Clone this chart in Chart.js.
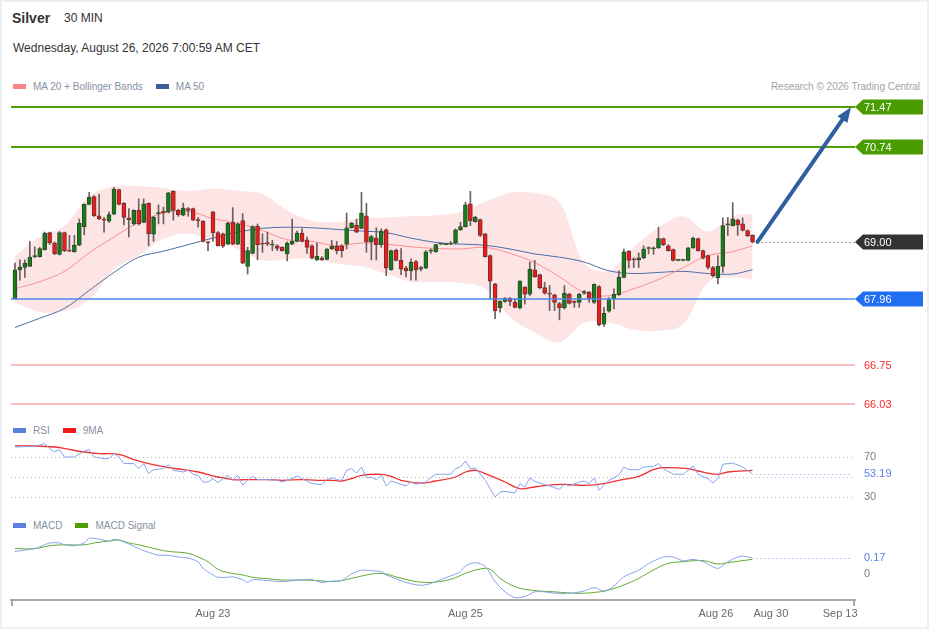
<!DOCTYPE html>
<html lang="en">
<head>
  <meta charset="UTF-8">
  <title>Silver 30 MIN</title>
  <script src="https://cdn.jsdelivr.net/npm/chart.js@4.4.1/dist/chart.umd.min.js"></script>
  <style>
    body { margin: 0; background: #fff; font-family: "Liberation Sans", Arial, sans-serif; }
    #edge { position: absolute; left: 0; top: 0; width: 929px; height: 629px; box-sizing: border-box; border: 2px solid #edf1f4; pointer-events: none; }
    .txt { position: absolute; white-space: nowrap; }
    .legend { position: absolute; font-size: 10px; line-height: 12px; color: #8790a3; white-space: nowrap; }
    .sw { display: inline-block; width: 13px; height: 5px; vertical-align: middle; margin: -2px 7px 0 0; }
    canvas { position: absolute; left: 0; }
  </style>
</head>
<body>

  <div class="txt" style="left:12px; top:10px; font-size:14px; line-height:17px; font-weight:bold; color:#333;">Silver</div>
  <div class="txt" style="left:64px; top:11px; font-size:12px; line-height:14px; color:#333;">30 MIN</div>
  <div class="txt" style="left:13px; top:41px; font-size:12px; line-height:14px; color:#333;">Wednesday, August 26, 2026 7:00:59 AM CET</div>

  <div class="legend" style="left:13px; top:81px;"><span class="sw" style="background:#fa8585;"></span>MA 20 + Bollinger Bands<span class="sw" style="background:#3a5f98; margin-left:13px;"></span>MA 50</div>
  <div class="legend" style="right:9px; top:81px; color:#a3a3a3;">Research © 2026 Trading Central</div>

  <div class="legend" style="left:13px; top:425px;"><span class="sw" style="background:#5b80e0;"></span>RSI<span class="sw" style="background:#f01818; margin-left:13px;"></span>9MA</div>
  <div class="legend" style="left:13px; top:520px;"><span class="sw" style="background:#5b80e0;"></span>MACD<span class="sw" style="background:#4aa000; margin-left:13px;"></span>MACD Signal</div>

  <canvas id="priceCanvas" width="929" height="320" style="top:95px;"></canvas>
  <canvas id="rsiCanvas" width="929" height="70" style="top:436px;"></canvas>
  <canvas id="macdCanvas" width="929" height="97" style="top:532px;"></canvas>

  <div id="edge"></div>

  <script>
    // 30 min candles, oldest first
    const opens = [67.96,68.49,68.53,68.55,68.73,68.73,68.86,69.17,68.98,68.77,
      69.17,68.84,68.82,68.94,69.28,69.69,69.83,69.48,69.42,69.38,
      69.51,69.96,69.71,69.44,69.33,69.58,69.36,69.71,69.14,69.52,
      69.56,69.55,69.93,69.58,69.49,69.61,69.61,69.40,69.38,69.00,
      69.55,69.17,69.15,68.96,69.36,68.96,69.39,68.55,68.79,69.29,
      68.98,68.99,68.94,68.93,68.90,68.78,68.96,69.01,69.16,69.04,
      68.93,68.67,68.71,68.68,68.87,68.92,68.93,68.96,69.26,69.31,
      69.25,69.48,69.00,69.07,68.95,69.22,68.49,68.85,68.66,68.52,
      68.47,68.64,68.50,68.52,68.83,68.82,68.96,68.95,68.96,68.98,
      69.22,69.28,69.70,69.37,69.41,69.15,68.75,68.23,67.79,67.91,
      67.97,67.89,67.79,68.17,68.04,68.49,68.40,68.16,68.06,68.03,
      67.87,67.79,68.04,67.90,67.89,68.06,68.08,67.89,68.18,67.49,
      67.73,67.95,68.03,68.35,68.83,68.69,68.67,68.71,68.88,68.87,
      68.89,69.06,68.93,68.86,68.66,68.66,68.66,68.89,69.06,68.84,
      68.75,68.53,68.34,68.55,69.31,69.30,69.40,69.33,69.21,69.12];
    const highs = [68.61,68.67,68.67,69.01,68.91,68.90,69.18,69.18,69.00,69.19,
      69.18,69.12,69.12,69.42,69.70,69.91,69.85,69.88,69.45,69.55,
      70.00,69.97,69.72,69.61,69.59,69.79,69.79,69.72,69.47,69.68,
      69.64,69.91,69.94,69.60,69.71,69.63,69.62,69.45,69.39,69.01,
      69.56,69.19,69.16,69.36,69.63,69.35,69.52,68.90,69.30,69.33,
      69.15,69.18,69.03,68.95,68.91,69.00,69.42,69.20,69.24,69.09,
      68.95,68.98,68.73,68.88,69.03,69.01,68.95,69.53,69.36,69.42,
      69.91,69.71,69.12,69.26,69.24,69.24,68.85,68.87,68.88,68.55,
      68.69,68.66,68.55,68.84,68.87,68.96,68.97,68.97,69.01,69.24,
      69.36,69.73,69.93,69.47,69.42,69.16,68.76,68.24,67.92,67.98,
      67.98,67.95,68.29,68.18,68.63,68.66,68.41,68.26,68.20,68.04,
      67.89,68.20,68.06,67.92,68.06,68.11,68.09,68.23,68.20,67.80,
      67.98,68.14,68.47,68.87,68.84,68.71,68.80,68.93,68.91,68.91,
      69.27,69.07,68.95,68.87,68.67,68.67,68.90,69.09,69.07,68.85,
      68.76,68.55,68.75,69.44,69.45,69.72,69.42,69.44,69.22,69.13];
    const lows = [67.96,68.30,68.35,68.55,68.71,68.72,68.85,68.95,68.77,68.76,
      68.82,68.82,68.81,68.93,69.13,69.68,69.47,69.41,69.18,69.36,
      69.50,69.68,69.31,69.09,69.31,69.31,69.35,68.93,69.01,69.33,
      69.33,69.53,69.40,69.47,69.48,69.47,69.39,69.27,69.00,68.84,
      69.01,68.92,68.90,68.95,68.95,68.95,68.60,68.41,68.78,68.67,
      68.81,68.93,68.84,68.84,68.83,68.65,68.95,69.00,69.00,68.79,
      68.69,68.66,68.66,68.67,68.86,68.78,68.72,68.87,69.25,69.17,
      69.24,68.81,68.67,68.67,68.90,68.38,68.48,68.65,68.40,68.36,
      68.30,68.30,68.47,68.51,68.79,68.81,68.95,68.95,68.95,68.96,
      69.21,69.27,69.30,69.36,69.10,68.72,67.95,67.59,67.71,67.89,
      67.83,67.79,67.77,67.86,68.01,68.35,68.14,68.04,67.74,67.74,
      67.57,67.77,67.86,67.80,67.80,68.04,67.89,67.87,67.46,67.45,
      67.71,67.77,68.02,68.34,68.52,68.53,68.53,68.69,68.78,68.77,
      68.88,68.93,68.83,68.65,68.65,68.65,68.65,68.88,68.83,68.69,
      68.50,68.36,68.23,68.44,69.12,69.29,69.12,69.20,69.10,68.98];
    const closes = [68.49,68.54,68.61,68.72,68.75,68.88,69.16,68.98,68.78,69.17,
      68.84,68.83,68.94,69.34,69.69,69.82,69.48,69.42,69.40,69.50,
      69.97,69.69,69.45,69.41,69.58,69.33,69.70,69.15,69.45,69.53,
      69.53,69.90,69.58,69.50,69.62,69.58,69.40,69.39,69.01,68.98,
      69.17,68.93,68.92,69.34,68.96,69.33,68.61,68.84,69.28,68.95,
      68.96,68.96,68.95,68.88,68.84,68.98,69.01,69.16,69.01,68.90,
      68.70,68.74,68.67,68.87,68.92,68.84,68.84,69.26,69.34,69.18,
      69.53,69.00,69.10,68.95,69.20,68.52,68.84,68.66,68.50,68.47,
      68.63,68.49,68.53,68.82,68.85,68.95,68.96,68.96,68.98,69.22,
      69.28,69.68,69.39,69.45,69.12,68.73,68.28,67.74,67.91,67.97,
      67.91,67.80,68.28,68.04,68.50,68.36,68.16,68.06,68.04,67.89,
      67.79,68.06,67.87,67.89,68.04,68.09,67.95,68.22,67.48,67.69,
      67.95,68.04,68.35,68.82,68.66,68.67,68.71,68.87,68.89,68.89,
      69.06,68.95,68.84,68.66,68.66,68.66,68.89,69.07,68.84,68.70,
      68.53,68.38,68.55,69.30,69.33,69.42,69.31,69.21,69.11,69.00];

    // moving averages and Bollinger Bands, read every 5 candles
    const maAt = [0,5,10,15,20,25,30,35,40,45,50,55,60,65,70,75,80,85,90,95,100,105,110,115,120,125,130,135,140,145,149];
    const ma20 = [68.14,68.27,68.46,68.80,69.09,69.36,69.53,69.56,69.43,69.34,69.21,69.04,69.01,68.93,68.98,68.96,68.91,68.88,68.87,68.90,68.79,68.62,68.36,68.07,68.01,68.14,68.31,68.53,68.75,68.82,68.93];
    const ma50 = [67.43,67.60,67.78,68.11,68.44,68.72,68.83,68.95,69.07,69.18,69.25,69.27,69.26,69.23,69.20,69.17,69.07,68.99,68.96,68.94,68.87,68.78,68.72,68.63,68.47,68.42,68.44,68.46,68.42,68.41,68.49];
    const bbUpper = [68.75,69.09,69.30,69.84,70.02,70.02,69.99,69.93,69.98,69.94,69.88,69.58,69.39,69.36,69.44,69.45,69.47,69.49,69.55,69.74,69.90,69.90,69.73,68.62,68.47,68.90,69.26,69.47,69.19,69.47,69.52];
    const bbLower = [67.89,67.72,67.73,67.94,68.49,68.75,69.06,69.15,69.03,68.87,68.66,68.68,68.69,68.60,68.55,68.41,68.27,68.26,68.25,68.14,67.62,67.34,67.16,67.52,67.52,67.39,67.37,67.49,68.26,68.35,68.31];

    // RSI and its 9 period average
    const rsiAt = [0,4,6,7,8,9,10,12,14,15,16,18,19,20,21,22,24,25,26,27,28,30,31,32,34,35,36,37,38,39,40,41,43,44,45,46,47,48,49,51,53,54,56,57,58,60,62,63,64,65,66,67,68,69,70,71,72,73,74,75,76,78,79,80,81,83,84,85,86,88,89,90,91,92,93,95,96,97,98,99,101,102,103,104,105,107,108,110,111,112,114,115,116,117,118,119,120,122,123,124,126,127,129,130,131,133,135,137,138,140,141,142,143,145,147,149];
    const rsiVal = [80.3,81,83.7,78.7,75.3,77.7,70.3,70.3,76.3,77.7,70.3,68.7,68.7,73.7,70.3,63.7,63.7,58.7,63.7,53.7,57.7,58.7,62.7,57,55.3,57,53,52,45.3,45.3,48.7,44.7,52,47,52,42,47,51,47.7,47.7,47,45.3,48.7,51.3,48.7,43.7,42.7,47.7,49.3,47.7,47,57,58.7,54.3,60.3,49.7,50,47.7,52,41.3,46.3,43,41.3,45.3,43,45.3,49.7,53,53,53,58.7,60.3,66.3,58.7,59.3,47,38.7,30.3,35.3,36,34.3,43.7,40.3,49.3,46,42.7,41.3,38,43.7,41.3,45.3,46.3,43.7,49.3,37,42,47,52,60.3,57.7,57.7,60.3,61,63.7,58.7,53,53,61.3,53,48.7,44.3,48.7,63,64.3,60.3,53.19];
    const rsiMaAt = [0,4,8,10,14,17,21,24,27,31,34,37,41,44,47,51,54,58,61,64,66,68,70,74,76,78,82,85,89,91,93,95,99,102,105,109,112,115,119,122,126,129,131,136,138,142,144,149];
    const rsiMaVal = [81.3,81.3,80.3,78.7,75.3,73.7,73,67.7,63.7,59.7,57.7,55.3,50.3,47.7,47.7,47.7,47,47.7,47,47,46.3,48.7,52,53,51,47,44.3,46.3,50.3,55.3,57,53.7,45.3,38.7,40.3,42.7,42.7,42,43.7,47,51,57.7,59.7,58.7,56.3,53,55.3,57];
    const rsiGuides = [70, 50, 30];
    const rsiTicks = [70, 30];

    // MACD and signal
    const macdAt = [0,4,6,7,9,10,12,14,15,17,19,20,21,23,25,27,29,31,33,35,37,38,40,41,43,44,46,47,48,51,54,58,60,62,64,66,68,70,72,74,75,77,79,82,84,86,88,90,91,93,95,97,99,101,103,105,107,110,113,115,117,119,121,123,126,128,131,133,135,137,139,142,144,146,147,149];
    const macdVal = [0.24,0.27,0.31,0.33,0.33,0.31,0.30,0.33,0.38,0.37,0.35,0.37,0.36,0.32,0.27,0.23,0.20,0.20,0.18,0.17,0.13,0.06,-0.01,-0.035,-0.035,-0.03,-0.06,-0.09,-0.06,-0.07,-0.08,-0.06,-0.06,-0.09,-0.075,-0.07,0.00,0.04,0.035,0.025,-0.01,-0.05,-0.09,-0.12,-0.10,-0.06,-0.02,0.025,0.085,0.12,0.08,-0.08,-0.19,-0.25,-0.24,-0.19,-0.19,-0.21,-0.20,-0.18,-0.145,-0.18,-0.13,-0.03,0.04,0.11,0.18,0.18,0.14,0.155,0.13,0.06,0.13,0.18,0.19,0.17];
    const signalAt = [0,4,7,10,14,16,19,21,23,25,29,31,35,37,39,41,43,46,48,51,54,58,61,64,66,68,71,73,75,78,83,88,91,94,96,98,101,104,109,114,118,120,123,126,129,132,135,139,142,144,149];
    const signalVal = [0.27,0.27,0.30,0.31,0.31,0.33,0.35,0.36,0.33,0.31,0.26,0.24,0.22,0.18,0.13,0.05,0.015,-0.01,-0.035,-0.05,-0.064,-0.064,-0.07,-0.08,-0.07,-0.046,-0.011,0.005,0.00,-0.046,-0.09,-0.057,0.007,0.053,0.05,-0.046,-0.134,-0.17,-0.19,-0.205,-0.19,-0.17,-0.117,-0.046,0.043,0.113,0.131,0.142,0.106,0.12,0.156];
    const macdTicks = [0];

    // key levels and target
    const levels = [71.47, 70.74, 67.96, 66.75, 66.03];
    const levelKind = ['target', 'target', 'support', 'lower', 'lower'];
    const targetPrice = 71.47;

    // date ticks on the candle index axis
    const dayTickAt = [40, 91, 141.6, 152.7, 166.7];
    const dayLabels = ['Aug 23', 'Aug 25', 'Aug 26', 'Aug 30', 'Sep 13'];

    const levelStyle = {
      target:  { line: '#50a00e', width: 2,   tag: '#4a9c00', text: '#fff' },
      support: { line: '#4d88ea', width: 1.5, tag: '#1f6ff0', text: '#fff' },
      lower:   { line: '#f7a6a6', width: 1.5, tag: null,      text: '#f42a2a' },
      last:    { tag: '#333333', text: '#fff' }
    };

    Chart.defaults.font.family = '"Liberation Sans", Arial, sans-serif';

    const X_MIN = -0.8, X_MAX = 169.7;
    const PAD = { left: 11, right: 74, top: 0, bottom: 0 };
    const LABEL_X = 864;
    const LABEL_FONT = '11px "Liberation Sans", Arial, sans-serif';

    const pts = (at, vals) => at.map((x, k) => ({ x: x, y: vals[k] }));
    const idx = closes.map((_, i) => i);

    function drawTag(ctx, x0, yc, text, st) {
      ctx.font = LABEL_FONT;
      ctx.textBaseline = 'middle';
      ctx.textAlign = 'left';
      if (st.tag) {
        ctx.fillStyle = st.tag;
        ctx.beginPath();
        ctx.moveTo(x0, yc);
        ctx.lineTo(x0 + 8, yc - 7.5);
        ctx.lineTo(x0 + 68, yc - 7.5);
        ctx.lineTo(x0 + 68, yc + 7.5);
        ctx.lineTo(x0 + 8, yc + 7.5);
        ctx.closePath();
        ctx.fill();
      }
      ctx.fillStyle = st.text;
      ctx.fillText(text, LABEL_X, yc + 0.5);
    }

    function dotted(ctx, x1, x2, y, color) {
      ctx.save();
      ctx.strokeStyle = color;
      ctx.lineWidth = 1;
      ctx.setLineDash([1, 3]);
      ctx.beginPath();
      ctx.moveTo(x1, Math.round(y) + 0.5);
      ctx.lineTo(x2, Math.round(y) + 0.5);
      ctx.stroke();
      ctx.restore();
    }

    const priceMarks = {
      id: 'priceMarks',
      afterDatasetsDraw(chart) {
        const { ctx, chartArea: a, scales: { x, y } } = chart;
        ctx.save();
        levels.forEach((v, k) => {
          const st = levelStyle[levelKind[k]];
          const py = Math.round(y.getPixelForValue(v));
          ctx.strokeStyle = st.line;
          ctx.lineWidth = st.width;
          ctx.beginPath();
          ctx.moveTo(a.left, py);
          ctx.lineTo(a.right, py);
          ctx.stroke();
          drawTag(ctx, a.right, py, v.toFixed(2), st);
        });

        const last = closes.length - 1;
        const ly = y.getPixelForValue(closes[last]);
        const lx = x.getPixelForValue(last + 1);
        dotted(ctx, lx, a.right, ly, '#444');
        drawTag(ctx, a.right, Math.round(ly), closes[last].toFixed(2), levelStyle.last);

        // target arrow
        const tx = a.right - 4;
        const ty = y.getPixelForValue(targetPrice);
        const ang = Math.atan2(ty - ly, tx - lx);
        const head = 15;
        ctx.strokeStyle = '#2e5f9f';
        ctx.fillStyle = '#2e5f9f';
        ctx.lineWidth = 4;
        ctx.lineCap = 'round';
        ctx.beginPath();
        ctx.moveTo(lx, ly);
        ctx.lineTo(tx - head * 0.8 * Math.cos(ang), ty - head * 0.8 * Math.sin(ang));
        ctx.stroke();
        ctx.beginPath();
        ctx.moveTo(tx, ty);
        ctx.lineTo(tx - head * Math.cos(ang) + 6 * Math.sin(ang), ty - head * Math.sin(ang) - 6 * Math.cos(ang));
        ctx.lineTo(tx - head * Math.cos(ang) - 6 * Math.sin(ang), ty - head * Math.sin(ang) + 6 * Math.cos(ang));
        ctx.closePath();
        ctx.fill();
        ctx.restore();
      }
    };

    const baseOptions = (yMin, yMax) => ({
      responsive: false,
      animation: false,
      events: [],
      layout: { padding: PAD },
      plugins: { legend: { display: false }, tooltip: { enabled: false } },
      scales: {
        x: { type: 'linear', min: X_MIN, max: X_MAX, offset: false, display: false },
        y: { type: 'linear', min: yMin, max: yMax, display: false }
      }
    });

    // Price panel
    new Chart(document.getElementById('priceCanvas').getContext('2d'), {
      type: 'bar',
      data: {
        datasets: [
          {
            type: 'line', data: pts(maAt, bbUpper), borderWidth: 0, pointRadius: 0,
            tension: 0.35, fill: '+1', backgroundColor: 'rgba(240, 20, 20, 0.11)', order: 6
          },
          {
            type: 'line', data: pts(maAt, bbLower), borderWidth: 0, pointRadius: 0,
            tension: 0.35, fill: false, order: 6
          },
          {
            type: 'line', data: pts(maAt, ma20), borderColor: '#fa9090', borderWidth: 1,
            pointRadius: 0, tension: 0.35, order: 4
          },
          {
            type: 'line', data: pts(maAt, ma50), borderColor: '#4a6fa8', borderWidth: 1,
            pointRadius: 0, tension: 0.35, order: 4
          },
          {
            data: idx.map(i => ({ x: i, y: [lows[i], highs[i]] })),
            backgroundColor: '#6e5e5e', barThickness: 1, grouped: false, minBarLength: 1, order: 2
          },
          {
            data: idx.map(i => ({ x: i, y: [opens[i], closes[i]] })),
            backgroundColor: idx.map(i => closes[i] >= opens[i] ? '#167c16' : '#ee1b1b'),
            borderColor: idx.map(i => closes[i] >= opens[i] ? '#2c4a2c' : '#6e3030'),
            borderWidth: 1, borderSkipped: false, barThickness: 4, grouped: false, minBarLength: 1, order: 1
          }
        ]
      },
      options: baseOptions(65.824, 71.696),
      plugins: [priceMarks]
    });

    // RSI panel
    const rsiMarks = {
      id: 'rsiMarks',
      beforeDatasetsDraw(chart) {
        const { ctx, chartArea: a, scales: { y } } = chart;
        rsiGuides.forEach(v => dotted(ctx, a.left, a.right - 3, y.getPixelForValue(v), '#b5b5b5'));
      },
      afterDatasetsDraw(chart) {
        const { ctx, chartArea: a, scales: { x, y } } = chart;
        const last = rsiVal[rsiVal.length - 1];
        const ly = y.getPixelForValue(last);
        dotted(ctx, x.getPixelForValue(rsiAt[rsiAt.length - 1]) + 4, a.right - 3, ly, '#7a9ae8');
        ctx.save();
        ctx.font = LABEL_FONT;
        ctx.textBaseline = 'middle';
        ctx.fillStyle = '#808080';
        rsiTicks.forEach(v => ctx.fillText(String(v), LABEL_X, y.getPixelForValue(v)));
        ctx.fillStyle = '#5f84e6';
        ctx.fillText(last.toFixed(2), LABEL_X, ly);
        ctx.restore();
      }
    };

    new Chart(document.getElementById('rsiCanvas').getContext('2d'), {
      type: 'line',
      data: {
        datasets: [
          { data: pts(rsiMaAt, rsiMaVal), borderColor: '#f03030', borderWidth: 1.3, pointRadius: 0, tension: 0.4, order: 2 },
          { data: pts(rsiAt, rsiVal), borderColor: '#87a3ea', borderWidth: 1, pointRadius: 0, tension: 0, order: 1 }
        ]
      },
      options: baseOptions(21.3, 91.3),
      plugins: [rsiMarks]
    });

    // MACD panel with the date axis
    const macdMarks = {
      id: 'macdMarks',
      afterDatasetsDraw(chart) {
        const { ctx, chartArea: a, scales: { x, y } } = chart;
        const last = macdVal[macdVal.length - 1];
        const ly = y.getPixelForValue(last);
        dotted(ctx, x.getPixelForValue(macdAt[macdAt.length - 1]) + 4, a.right - 3, ly, '#7a9ae8');
        ctx.save();
        ctx.font = LABEL_FONT;
        ctx.textBaseline = 'middle';
        ctx.fillStyle = '#808080';
        macdTicks.forEach(v => ctx.fillText(String(v), LABEL_X, y.getPixelForValue(v)));
        ctx.fillStyle = '#5f84e6';
        ctx.fillText(last.toFixed(2), LABEL_X, ly);
        // end ticks of the time axis
        ctx.strokeStyle = '#aaaaaa';
        ctx.lineWidth = 2;
        [a.left + 1, a.right - 1].forEach(px => {
          ctx.beginPath();
          ctx.moveTo(px, a.bottom);
          ctx.lineTo(px, a.bottom + 6);
          ctx.stroke();
        });
        ctx.restore();
      }
    };

    const macdOptions = baseOptions(-0.2763, 0.4463);
    macdOptions.scales.x = {
      type: 'linear', min: X_MIN, max: X_MAX, offset: false, display: true, position: 'bottom',
      grid: { display: false, drawTicks: false },
      border: { display: true, color: '#aaaaaa', width: 2 },
      afterBuildTicks: axis => { axis.ticks = dayTickAt.map(v => ({ value: v })); },
      afterFit: axis => { axis.height = 29; },
      ticks: {
        autoSkip: false, maxRotation: 0, padding: 7, color: '#6a6a6a', font: { size: 11 },
        callback: (value, i) => dayLabels[i]
      }
    };

    new Chart(document.getElementById('macdCanvas').getContext('2d'), {
      type: 'line',
      data: {
        datasets: [
          { data: pts(signalAt, signalVal), borderColor: '#62a832', borderWidth: 1, pointRadius: 0, tension: 0.4, order: 2 },
          { data: pts(macdAt, macdVal), borderColor: '#87a3ea', borderWidth: 1, pointRadius: 0, tension: 0.3, order: 1 }
        ]
      },
      options: macdOptions,
      plugins: [macdMarks]
    });
  </script>
</body>
</html>
